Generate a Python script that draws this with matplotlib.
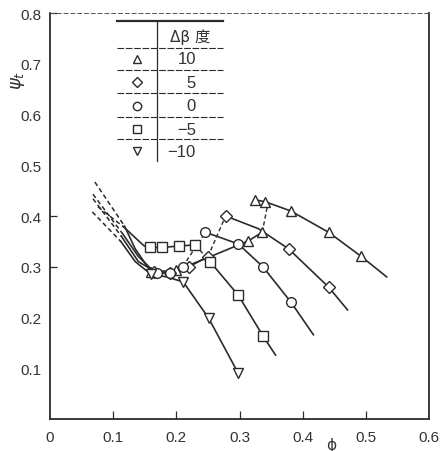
import matplotlib
matplotlib.use("Agg")
import matplotlib.pyplot as plt

plt.rcParams['font.family'] = ['Liberation Sans', 'DejaVu Sans', 'Noto Sans CJK SC']

# delta beta (deg) for each curve
betas = ["10", "5", "0", "\u22125", "\u221210"]
marks = ["^", "D", "o", "s", "v"]

# dashed lead-in lines (low flow side)
lead_phi = [[0.071, 0.118], [0.068, 0.115], [0.068, 0.113], [0.076, 0.117], [0.067, 0.112]]
lead_psi = [[0.467, 0.380], [0.443, 0.365], [0.434, 0.360], [0.418, 0.378], [0.408, 0.350]]

# low branch (solid)
low_phi = [[0.118, 0.135, 0.16, 0.20, 0.25, 0.314, 0.336],
           [0.115, 0.14, 0.165, 0.19, 0.22, 0.25],
           [0.113, 0.14, 0.17, 0.19, 0.21],
           [0.117, 0.149, 0.159, 0.178, 0.205, 0.23],
           [0.112, 0.135, 0.16, 0.185, 0.211, 0.251, 0.298]]
low_psi = [[0.380, 0.335, 0.290, 0.293, 0.318, 0.351, 0.368],
           [0.365, 0.320, 0.290, 0.287, 0.300, 0.320],
           [0.360, 0.310, 0.288, 0.288, 0.300],
           [0.378, 0.341, 0.338, 0.338, 0.341, 0.343],
           [0.350, 0.310, 0.285, 0.280, 0.270, 0.199, 0.090]]
# which low branch points carry a marker
low_mark = [[2, 3, 5, 6], [2, 3, 4, 5], [2, 3, 4], [2, 3, 4, 5], [2, 4, 5, 6]]

# jumps between branches (dashed)
jump_phi = [[0.336, 0.345], [0.25, 0.278], [0.21, 0.246], [0.23, 0.254], []]
jump_psi = [[0.368, 0.425], [0.320, 0.400], [0.300, 0.368], [0.343, 0.309], []]

# high branch (solid)
high_phi = [[0.324, 0.341, 0.381, 0.441, 0.492, 0.533],
            [0.278, 0.33, 0.378, 0.441, 0.471],
            [0.246, 0.298, 0.337, 0.381, 0.417],
            [0.254, 0.298, 0.337, 0.357],
            []]
high_psi = [[0.432, 0.428, 0.410, 0.368, 0.321, 0.280],
            [0.400, 0.375, 0.335, 0.260, 0.215],
            [0.368, 0.345, 0.300, 0.231, 0.166],
            [0.309, 0.244, 0.164, 0.126],
            []]
high_mark = [[0, 1, 2, 3, 4], [0, 2, 3], [0, 1, 2, 3], [0, 1, 2], []]

xticks = [0, 0.1, 0.2, 0.3, 0.4, 0.5, 0.6]
xlabels = ["0", "0.1", "0.2", "0.3", "0.4", "0.5", "0.6"]
yticks = [0.1, 0.2, 0.3, 0.4, 0.5, 0.6, 0.7, 0.8]
ylabels = ["0.1", "0.2", "0.3", "0.4", "0.5", "0.6", "0.7", "0.8"]

ink = "#2b2b2b"
fig = plt.figure(figsize=(4.41, 4.52), dpi=100)
ax = fig.add_axes([0.1134, 0.0708, 0.8594, 0.8982])

mk = dict(linestyle="none", markerfacecolor="white", markeredgecolor=ink,
          markeredgewidth=1.0, zorder=3)
for i in range(len(betas)):
    ms = 6 if marks[i] == "D" else 7
    ax.plot(lead_phi[i], lead_psi[i], color=ink, lw=1.1, ls=(0, (3, 2)))
    ax.plot(low_phi[i], low_psi[i], color=ink, lw=1.2)
    ax.plot([low_phi[i][k] for k in low_mark[i]], [low_psi[i][k] for k in low_mark[i]],
            marker=marks[i], markersize=ms, **mk)
    if jump_phi[i]:
        ax.plot(jump_phi[i], jump_psi[i], color=ink, lw=1.0, ls=(0, (3, 2)))
    if high_phi[i]:
        ax.plot(high_phi[i], high_psi[i], color=ink, lw=1.2)
        ax.plot([high_phi[i][k] for k in high_mark[i]], [high_psi[i][k] for k in high_mark[i]],
                marker=marks[i], markersize=ms, **mk)

ax.set_xlim(0, 0.6)
ax.set_ylim(0, 0.8)
ax.set_xticks(xticks)
ax.set_xticklabels(xlabels, fontsize=11, color="#333333")
ax.set_yticks(yticks)
ax.set_yticklabels(ylabels, fontsize=11, color="#333333")
ax.tick_params(axis="x", direction="in", length=6, width=0.9, pad=8, color=ink)
ax.tick_params(axis="y", direction="in", length=5, width=0.9, pad=6, color=ink)
for t, v in zip(ax.xaxis.get_major_ticks(), xticks):
    if v in (0, 0.6):
        t.tick1line.set_visible(False)
for t, v in zip(ax.yaxis.get_major_ticks(), yticks):
    if v not in (0.3, 0.4, 0.8):
        t.tick1line.set_visible(False)

for s in ("left", "bottom", "right"):
    ax.spines[s].set_color(ink)
    ax.spines[s].set_linewidth(1.3)
ax.spines["top"].set_linestyle((0, (4, 3)))
ax.spines["top"].set_linewidth(0.7)
ax.spines["top"].set_color("#555555")

ax.text(0.445, -0.045, "\u03d5", transform=ax.get_xaxis_transform(), ha="center",
        va="top", fontsize=11, color="#333333", family=["DejaVu Sans"])
fig.text(18 / 441, 1 - 80 / 452, r"$\psi_t$", rotation=90, ha="center", va="center",
         fontsize=13, color="#333333")

# key table in the upper left
tx0, tx1, tcol = 0.177, 0.456, 0.282
kw = dict(transform=ax.transAxes, color=ink, clip_on=False)
ax.plot([tx0, tx1], [0.981, 0.981], lw=1.6, **kw)
for yy in (0.914, 0.860, 0.803, 0.744, 0.690):
    ax.plot([tx0, tx1], [yy, yy], lw=0.8, ls=(0, (6, 1.5)), **kw)
ax.plot([tcol, tcol], [0.981, 0.635], lw=0.9, **kw)
ax.text(0.369, 0.943, "\u0394\u03b2 \u5ea6", transform=ax.transAxes, ha="center",
        va="center", fontsize=11, color="#333333",
        family=["DejaVu Sans", "Noto Sans CJK SC"])
row_y = [0.887, 0.830, 0.771, 0.714, 0.660]
for i in range(len(betas)):
    ms = 5 if marks[i] == "D" else 6
    ax.plot([0.230], [row_y[i]], marker=marks[i], markersize=ms, transform=ax.transAxes,
            linestyle="none", markerfacecolor="white", markeredgecolor=ink,
            markeredgewidth=1.0, clip_on=False)
    ax.text(0.385, row_y[i], betas[i], transform=ax.transAxes, ha="right", va="center",
            fontsize=12, color="#333333")

fig.savefig("out.png", dpi=100, facecolor="white")
